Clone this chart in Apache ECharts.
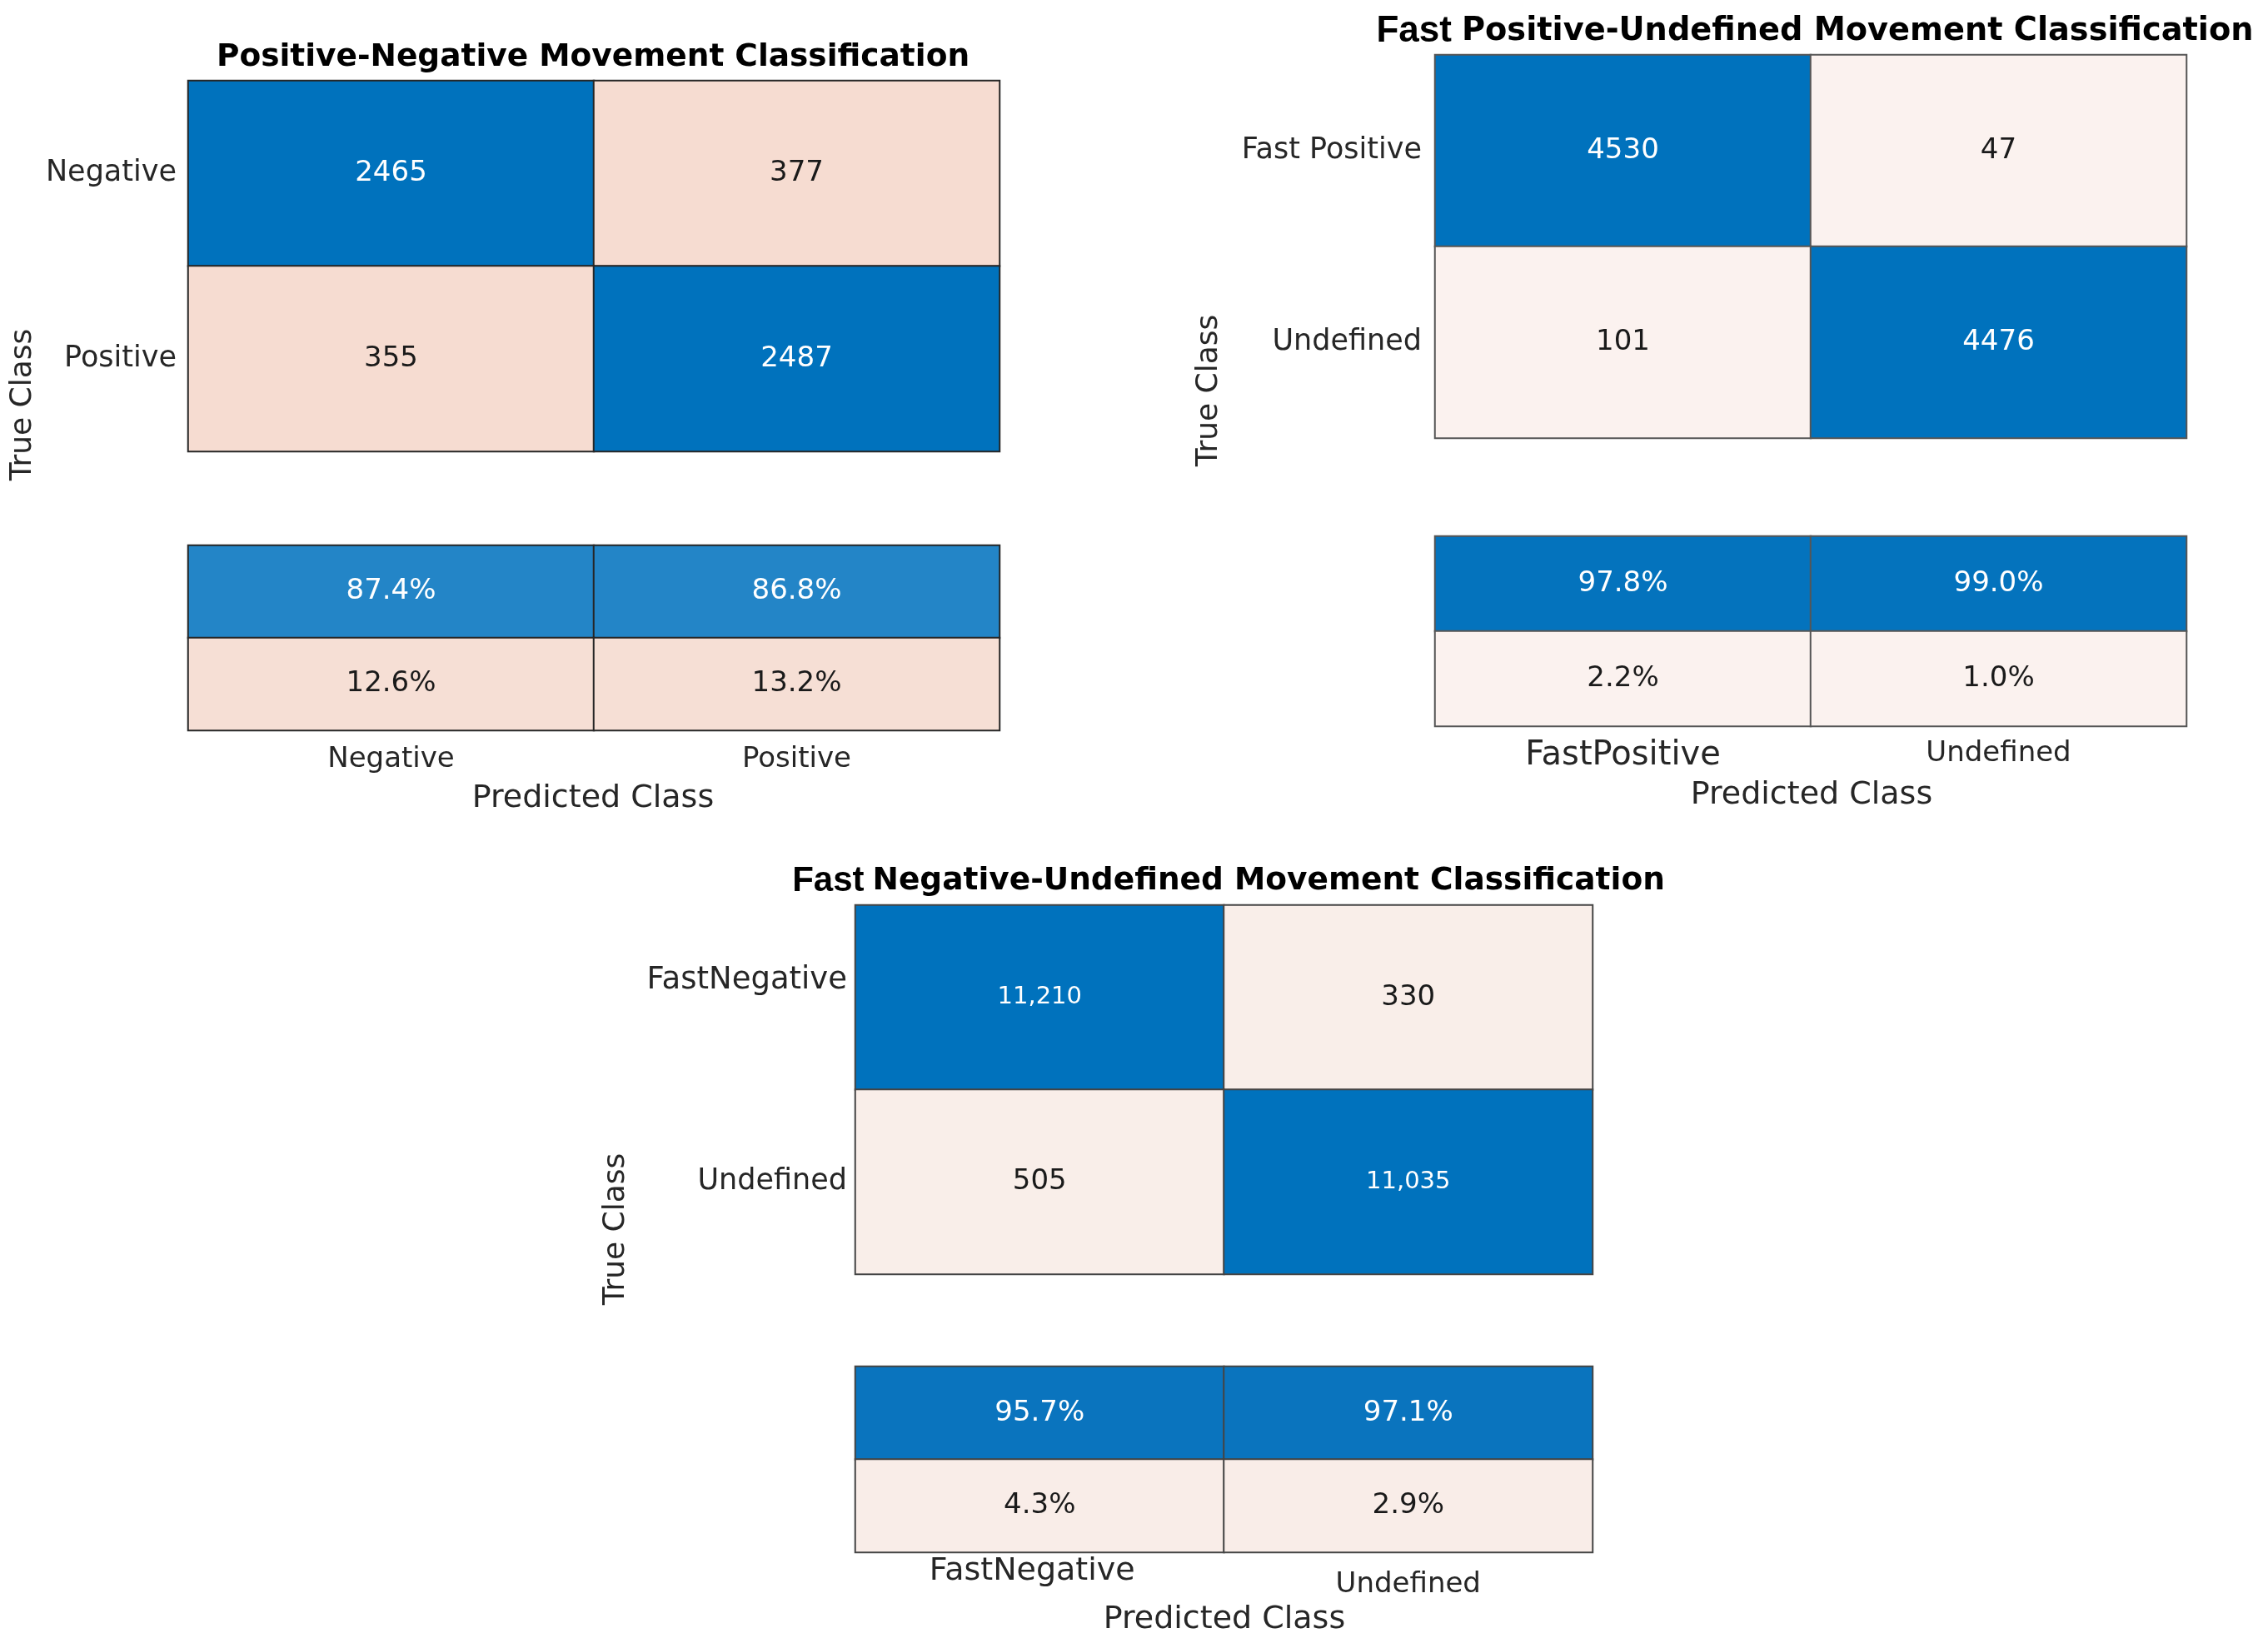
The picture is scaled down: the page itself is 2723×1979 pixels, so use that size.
<!DOCTYPE html>
<html>
<head>
<meta charset="utf-8">
<script src="https://cdn.jsdelivr.net/npm/echarts@6/dist/echarts.min.js"></script>
<style>
html,body{margin:0;padding:0;background:#fff;}
#chart{width:2723px;height:1979px;}
</style>
</head>
<body>
<div id="chart"></div>
<script>
// ---------- DATA ----------
const pnClasses = ['Negative', 'Positive'];
const pnCounts = [[2465, 377], [355, 2487]];   // rows = true class, cols = predicted class
const pnCorrect = [87.4, 86.8];
const pnWrong = [12.6, 13.2];

const puClasses = ['FastPositive', 'Undefined'];
const puCounts = [[4530, 47], [101, 4476]];
const puCorrect = [97.8, 99.0];
const puWrong = [2.2, 1.0];

const nuClasses = ['FastNegative', 'Undefined'];
const nuCounts = [[11210, 330], [505, 11035]];
const nuCorrect = [95.7, 97.1];
const nuWrong = [4.3, 2.9];

const summaryRows = ['correct', 'incorrect'];

const titlePN = 'Positive-Negative Movement Classification';
const titlePU = ['Fast', 'Positive-Undefined Movement Classification'];
const titleNU = ['Fast', 'Negative-Undefined Movement Classification'];
const xName = 'Predicted Class';
const yName = 'True Class';

// ---------- LAYOUT / STYLE ----------
const FONT = 'DejaVu Sans';
const charts = [
  {
    classes: pnClasses, counts: pnCounts, correct: pnCorrect, wrong: pnWrong,
    m: {left: 226, top: 97, width: 974, height: 445},
    s: {left: 226, top: 655, width: 974, height: 222},
    blue: '#0072BD', sumBlue: '#2385C7', peach: '#F6DCD1', sumPeach: '#F6DFD5',
    border: '#262626', comma: false, cellFont: 34, yMargin: 14, xMargin: 18,
    trueX: 28, trueY: 486, predX: 712, predY: 959
  },
  {
    classes: puClasses, counts: puCounts, correct: puCorrect, wrong: puWrong,
    m: {left: 1723, top: 66, width: 902, height: 460},
    s: {left: 1723, top: 644, width: 902, height: 228},
    blue: '#0072BD', sumBlue: '#0473BD', peach: '#FBF2EF', sumPeach: '#FBF2EF',
    border: '#555555', comma: false, cellFont: 34, yMargin: 16, xMargin: 16,
    trueX: 1452, trueY: 469, predX: 2175, predY: 955
  },
  {
    classes: nuClasses, counts: nuCounts, correct: nuCorrect, wrong: nuWrong,
    m: {left: 1027, top: 1087, width: 885, height: 443},
    s: {left: 1027, top: 1641, width: 885, height: 223},
    blue: '#0072BD', sumBlue: '#0A74BE', peach: '#F9EEE9', sumPeach: '#F9EDE8',
    border: '#444444', comma: true, cellFont: 34, yMargin: 10, xMargin: 4,
    trueX: 740, trueY: 1476, predX: 1470, predY: 1945
  }
];

const grids = [], xAxes = [], yAxes = [], series = [];

function yLabelFmt(v) {
  if (v === 'FastPositive') return '{n|Fast Positive}';
  if (v === 'FastNegative') return '{fn|FastNegative}';
  return '{n|' + v + '}';
}
function xLabelFmt(v) {
  if (v === 'FastPositive') return '{big|FastPositive}';
  if (v === 'FastNegative') return '{bign|FastNegative}';
  return '{n|' + v + '}';
}

charts.forEach((c, ci) => {
  const gm = grids.length;
  grids.push(Object.assign({containLabel: false, show: false}, c.m));
  const gs = grids.length;
  grids.push(Object.assign({containLabel: false, show: false}, c.s));

  const undefinedPad = ci === 2 ? 18 : 0;

  // matrix axes
  xAxes.push({type: 'category', gridIndex: gm, data: c.classes, axisLine: {show: false}, axisTick: {show: false}, axisLabel: {show: false}, splitLine: {show: false}});
  yAxes.push({type: 'category', gridIndex: gm, data: c.classes, inverse: true, axisLine: {show: false}, axisTick: {show: false}, splitLine: {show: false},
    axisLabel: {margin: c.yMargin, formatter: yLabelFmt,
      rich: {
        n: {fontFamily: FONT, fontSize: 35, color: '#262626'},
        fn: {fontFamily: FONT, fontSize: 37, color: '#262626', padding: [0, 0, 40, 0]}
      }}});
  // summary axes
  xAxes.push({type: 'category', gridIndex: gs, data: c.classes, position: 'bottom', axisLine: {show: false}, axisTick: {show: false}, splitLine: {show: false},
    axisLabel: {margin: c.xMargin, formatter: xLabelFmt,
      rich: {
        n: {fontFamily: FONT, fontSize: 34, color: '#262626', padding: [undefinedPad, 0, 0, 0]},
        big: {fontFamily: FONT, fontSize: 40, color: '#262626'},
        bign: {fontFamily: FONT, fontSize: 38, color: '#262626', padding: [0, 18, 0, 0]}
      }}});
  yAxes.push({type: 'category', gridIndex: gs, data: summaryRows, inverse: true, axisLine: {show: false}, axisTick: {show: false}, axisLabel: {show: false}, splitLine: {show: false}});

  const xm = xAxes.length - 2, ym = yAxes.length - 2, xs = xAxes.length - 1, ys = yAxes.length - 1;

  const cellData = [];
  c.counts.forEach((row, r) => row.forEach((v, p) => {
    const diag = r === p;
    const big = v >= 10000;
    cellData.push({
      value: [p, r, v],
      itemStyle: {color: diag ? c.blue : c.peach},
      label: {color: diag ? '#ffffff' : '#1a1a1a', fontSize: big ? 29 : c.cellFont,
        padding: (big && r === 0) ? [0, 0, 16, 0] : 0}
    });
  }));
  series.push({
    type: 'heatmap', xAxisIndex: xm, yAxisIndex: ym, data: cellData,
    itemStyle: {borderColor: c.border, borderWidth: 2},
    label: {show: true, fontFamily: FONT,
      formatter: p => c.comma ? p.value[2].toLocaleString('en-US') : String(p.value[2])},
    emphasis: {disabled: true}
  });

  const sumData = [];
  c.correct.forEach((v, p) => sumData.push({value: [p, 0, v], itemStyle: {color: c.sumBlue}, label: {color: '#ffffff'}}));
  c.wrong.forEach((v, p) => sumData.push({value: [p, 1, v], itemStyle: {color: c.sumPeach}, label: {color: '#1a1a1a'}}));
  series.push({
    type: 'heatmap', xAxisIndex: xs, yAxisIndex: ys, data: sumData,
    itemStyle: {borderColor: c.border, borderWidth: 2},
    label: {show: true, fontFamily: FONT, fontSize: 34, formatter: p => p.value[2].toFixed(1) + '%'},
    emphasis: {disabled: true}
  });
});

// free texts (titles and axis names)
const graphics = [];
function addText(x, y, text, opts) {
  graphics.push({type: 'text', x: x, y: y, rotation: opts.rotation || 0,
    style: Object.assign({text: text, textAlign: 'center', textVerticalAlign: 'middle', fill: opts.fill || '#000'}, opts.style || {})});
}
addText(712, 69, titlePN, {style: {font: 'bold 37.5px "DejaVu Sans"'}});
addText(2179, 38, '{f|' + titlePU[0] + '}{t|' + titlePU[1] + '}', {style: {rich: {
  f: {fontFamily: 'Liberation Sans', fontWeight: 'bold', fontSize: 44, fill: '#000', padding: [0, 12, 0, 0]},
  t: {fontFamily: FONT, fontWeight: 'bold', fontSize: 38.3, fill: '#000'}}}});
addText(1475, 1058, '{f|' + titleNU[0] + '}{t|' + titleNU[1] + '}', {style: {rich: {
  f: {fontFamily: 'Liberation Sans', fontWeight: 'bold', fontSize: 42, fill: '#000', padding: [0, 10, 0, 0]},
  t: {fontFamily: FONT, fontWeight: 'bold', fontSize: 37.5, fill: '#000'}}}});

charts.forEach(c => {
  addText(c.trueX, c.trueY, yName, {rotation: Math.PI / 2, fill: '#262626', style: {font: '36px "DejaVu Sans"'}});
  addText(c.predX, c.predY, xName, {fill: '#262626', style: {font: '38px "DejaVu Sans"'}});
});

const chart = echarts.init(document.getElementById('chart'), null, {renderer: 'canvas'});
chart.setOption({
  animation: false,
  backgroundColor: '#ffffff',
  grid: grids,
  xAxis: xAxes,
  yAxis: yAxes,
  series: series,
  graphic: graphics
});
</script>
</body>
</html>
